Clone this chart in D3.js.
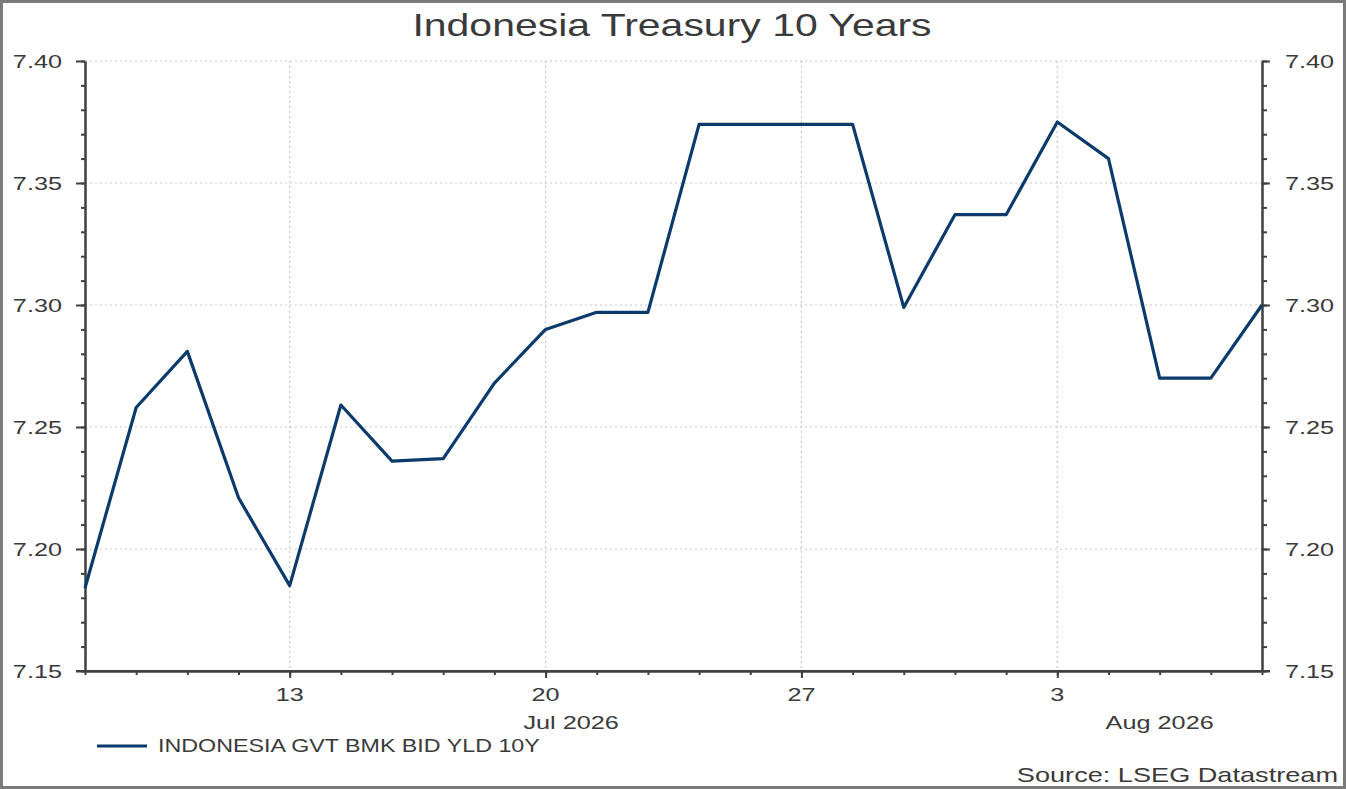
<!DOCTYPE html>
<html>
<head>
<meta charset="utf-8">
<script src="https://cdn.jsdelivr.net/npm/d3@7"></script>
<style>
  body { margin: 0; background: #fff; }
  svg { display: block; font-family: "Liberation Sans", Arial, sans-serif; }
</style>
</head>
<body>
<svg class="chart" width="1346" height="789"></svg>
<script>
// business days shown on the axis
var dates = [
  "2026-07-07", "2026-07-08", "2026-07-09", "2026-07-10",
  "2026-07-13", "2026-07-14", "2026-07-15", "2026-07-16", "2026-07-17",
  "2026-07-20", "2026-07-21", "2026-07-22", "2026-07-23", "2026-07-24",
  "2026-07-27", "2026-07-28", "2026-07-29", "2026-07-30", "2026-07-31",
  "2026-08-03", "2026-08-04", "2026-08-05", "2026-08-06", "2026-08-07"
];
var yields = [
  7.184, 7.258, 7.281, 7.221,
  7.185, 7.259, 7.236, 7.237, 7.268,
  7.290, 7.297, 7.297, 7.374, 7.374,
  7.374, 7.374, 7.299, 7.337, 7.337,
  7.375, 7.360, 7.270, 7.270, 7.300
];
var yTicks = [7.15, 7.20, 7.25, 7.30, 7.35, 7.40];
var mondays = ["2026-07-13", "2026-07-20", "2026-07-27", "2026-08-03"];
var monthLabels = ["Jul 2026", "Aug 2026"];
var title = "Indonesia Treasury 10 Years";
var seriesName = "INDONESIA GVT BMK BID YLD 10Y";
var source = "Source: LSEG Datastream";

var svg = d3.select(".chart"),
  plotLeft = 85,
  plotRight = 1262,
  plotTop = 61,
  plotBottom = 671,
  SX = 1.33, // text in the original is stretched sideways
  textColor = "#3a3a3a",
  axisColor = "#404040",
  lineColor = "#0b3a6c";

var parseTime = d3.timeParse("%Y-%m-%d");
var data = dates.map(function(d, i) {
  return { date: d, value: yields[i] };
});

var x = d3.scalePoint().domain(dates).range([plotLeft, plotRight]);
var y = d3.scaleLinear().domain([7.15, 7.40]).range([plotBottom, plotTop]);

function stretched(sel, px, py, anchor) {
  return sel
    .attr("transform", "translate(" + px + "," + py + ") scale(" + SX + ",1)")
    .attr("text-anchor", anchor)
    .attr("fill", textColor);
}

// outer frame
svg.append("rect")
  .attr("x", 1.5).attr("y", 1.5)
  .attr("width", 1343).attr("height", 786)
  .attr("fill", "#fff")
  .attr("stroke", "#7a7a7a")
  .attr("stroke-width", 3);

// grid
var grid = svg.append("g")
  .attr("stroke", "#c8c8c8")
  .attr("stroke-width", 1.2)
  .attr("stroke-dasharray", "2,3");
grid.selectAll(".hgrid")
  .data(yTicks.slice(1))
  .enter().append("line")
  .attr("x1", plotLeft).attr("x2", plotRight)
  .attr("y1", function(d) { return y(d); })
  .attr("y2", function(d) { return y(d); });
grid.selectAll(".vgrid")
  .data(mondays)
  .enter().append("line")
  .attr("x1", function(d) { return x(d); })
  .attr("x2", function(d) { return x(d); })
  .attr("y1", plotTop).attr("y2", plotBottom);

// axes
var minorY = d3.range(7150, 7401, 10).map(function(v) { return v / 1000; });

function styleAxis(g) {
  g.selectAll("path, line").attr("stroke", axisColor).attr("stroke-width", 2);
  g.selectAll("text").remove();
}

svg.append("g")
  .attr("transform", "translate(" + plotLeft + ",0)")
  .call(d3.axisLeft(y).tickValues(minorY).tickSize(4).tickSizeOuter(0))
  .call(styleAxis);
svg.append("g")
  .attr("transform", "translate(" + plotLeft + ",0)")
  .call(d3.axisLeft(y).tickValues(yTicks).tickSize(9).tickSizeOuter(0))
  .call(styleAxis);
svg.append("g")
  .attr("transform", "translate(" + plotRight + ",0)")
  .call(d3.axisRight(y).tickValues(minorY).tickSize(5).tickSizeOuter(0))
  .call(styleAxis);
svg.append("g")
  .attr("transform", "translate(" + plotRight + ",0)")
  .call(d3.axisRight(y).tickValues(yTicks).tickSize(8).tickSizeOuter(0))
  .call(styleAxis);
svg.append("g")
  .attr("transform", "translate(0," + plotBottom + ")")
  .call(d3.axisBottom(x).tickValues(dates).tickSize(4).tickSizeOuter(0))
  .call(styleAxis);
svg.append("g")
  .attr("transform", "translate(0," + plotBottom + ")")
  .call(d3.axisBottom(x).tickValues(mondays).tickSize(7).tickSizeOuter(0))
  .call(styleAxis);
svg.append("line")
  .attr("x1", plotLeft - 9).attr("x2", plotRight + 8)
  .attr("y1", plotBottom).attr("y2", plotBottom)
  .attr("stroke", axisColor).attr("stroke-width", 2);

// y labels, both sides
var yLab = svg.append("g").attr("font-size", 19);
yTicks.forEach(function(v) {
  yLab.append("text").text(v.toFixed(2))
    .attr("dy", "0.36em")
    .call(stretched, 62, y(v), "end");
  yLab.append("text").text(v.toFixed(2))
    .attr("dy", "0.36em")
    .call(stretched, 1285, y(v), "start");
});

// x labels
var fmtDay = d3.timeFormat("%-d");
var xLab = svg.append("g").attr("font-size", 19);
mondays.forEach(function(d) {
  xLab.append("text").text(fmtDay(parseTime(d)))
    .call(stretched, x(d), 701, "middle");
});
xLab.append("text").text(monthLabels[0])
  .call(stretched, x("2026-07-20") + x.step() / 2, 729, "middle");
xLab.append("text").text(monthLabels[1])
  .call(stretched, x("2026-08-05"), 729, "middle");

// series line
var line = d3.line()
  .x(function(d) { return x(d.date); })
  .y(function(d) { return y(d.value); });
svg.append("path")
  .datum(data)
  .attr("fill", "none")
  .attr("stroke", lineColor)
  .attr("stroke-width", 3.2)
  .attr("stroke-linejoin", "round")
  .attr("d", line);

// title
svg.append("text").text(title)
  .attr("font-size", 30.8)
  .call(stretched, 672, 36, "middle");

// legend
svg.append("line")
  .attr("x1", 97).attr("x2", 147)
  .attr("y1", 746).attr("y2", 746)
  .attr("stroke", lineColor)
  .attr("stroke-width", 3);
svg.append("text").text(seriesName)
  .attr("font-size", 17.5)
  .call(stretched, 158, 752, "start");

// source
svg.append("text").text(source)
  .attr("font-size", 20.4)
  .call(stretched, 1338, 782, "end");
</script>
</body>
</html>
